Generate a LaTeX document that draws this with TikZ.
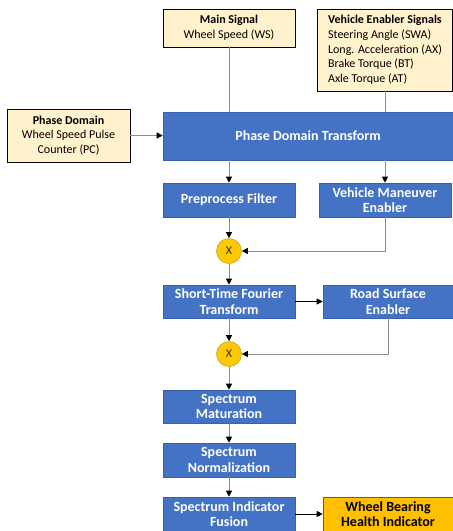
\documentclass[tikz,border=0pt]{standalone}
\usepackage{fontspec}
\setmainfont{Carlito}
\usepackage{xcolor}
\usepackage{tikz}
\usetikzlibrary{arrows.meta}
\usetikzlibrary{positioning, shapes.geometric, backgrounds}
\definecolor{stepblue}{HTML}{4472C4}
\definecolor{stepedge}{HTML}{3A62AC}
\definecolor{inputfill}{HTML}{FFF2CC}
\definecolor{gold}{HTML}{FFC000}
\definecolor{goldedge}{HTML}{C9A227}
\definecolor{linegray}{HTML}{8C8C8C}
\tikzset{
input box/.style = { rectangle, draw = black, fill = inputfill, text = black, font = \fontsize{12}{14.7}\selectfont, align = center, inner sep = 0pt, line width = 0.8pt },
stage box/.style = { rectangle, draw = stepedge, fill = stepblue, text = white, font = \fontsize{14}{15.5}\selectfont\bfseries, align = center, inner sep = 0pt, minimum width = 132pt, minimum height = 34pt, line width = 0.6pt },
output box/.style = { rectangle, draw = stepedge, fill = gold, text = black, font = \fontsize{14}{15.5}\selectfont\bfseries, align = center, inner sep = 0pt, minimum width = 130pt, minimum height = 34pt, line width = 0.6pt },
mixer/.style = { circle, draw = goldedge, fill = gold!85!yellow, text = black!80, font = \fontsize{12}{14}\selectfont, minimum size = 25pt, inner sep = 0pt, line width = 0.6pt },
flow/.style = { draw = linegray, line width = 1pt, -{Triangle[black, length = 6pt, width = 6pt]} },
feed/.style = { draw = linegray, line width = 1pt },
dark flow/.style = { draw = black, line width = 0.9pt, -{Triangle[black, length = 6pt, width = 6pt]} },
}

\begin{document}
\begin{tikzpicture}[x = 1pt, y = -1pt]
      \useasboundingbox (0, 0) rectangle (453, 531);
      % inputs
      \node[input box, minimum width = 132pt, minimum height = 38pt] (main) at (229, 28) {\textbf{Main Signal}\\Wheel Speed (WS)};
      \node[input box, minimum width = 135pt, minimum height = 82pt, align = left] (enabler) at (385, 50) {\textbf{Vehicle Enabler Signals}\\Steering Angle (SWA)\\Long. Acceleration (AX)\\Brake Torque (BT)\\Axle Torque (AT)};
      \node[input box, minimum width = 123pt, minimum height = 53pt] (phase) at (68.5, 135.5) {\textbf{Phase Domain}\\Wheel Speed Pulse\\Counter (PC)};
      % processing chain
      \node[stage box, minimum width = 290pt, minimum height = 48pt] (pdt) at (308, 136) {Phase Domain Transform};
      \node[stage box] (filter) at (229, 200) {Preprocess Filter};
      \node[stage box] (maneuver) at (385, 200) {Vehicle Maneuver\\Enabler};
      \node[mixer] (mix1) at (229, 251) {X};
      \node[stage box, minimum height = 33pt] (stft) at (229, 301.5) {Short-Time Fourier\\Transform};
      \node[stage box, minimum width = 130pt, minimum height = 33pt] (road) at (388, 301.5) {Road Surface\\Enabler};
      \node[mixer] (mix2) at (229, 354) {X};
      \node[stage box, minimum height = 33pt] (maturation) at (229, 406.5) {Spectrum\\Maturation};
      \node[stage box] (normal) at (229, 460) {Spectrum\\Normalization};
      \node[stage box] (fusion) at (229, 514) {Spectrum Indicator\\Fusion};
      \node[output box] (health) at (388, 514) {Wheel Bearing\\Health Indicator};
      % connectors
      \draw[feed] (main) -- (main |- pdt.north);
      \draw[flow] (main |- pdt.south) -- (filter);
      \draw[feed] (enabler) -- (enabler |- pdt.north);
      \draw[flow] (enabler |- pdt.south) -- (maneuver);
      \draw[flow] (phase) -- (pdt.west |- phase);
      \draw[flow] (filter) -- (mix1);
      \draw[flow] (maneuver) |- (mix1);
      \draw[flow] (mix1) -- (stft);
      \draw[dark flow] (stft) -- (road);
      \draw[flow] (stft) -- (mix2);
      \draw[flow] (road.south) |- (mix2);
      \draw[flow] (mix2) -- (maturation);
      \draw[flow] (maturation) -- (normal);
      \draw[flow] (normal) -- (fusion);
      \draw[dark flow] (fusion) -- (health);
    \end{tikzpicture}
\end{document}
